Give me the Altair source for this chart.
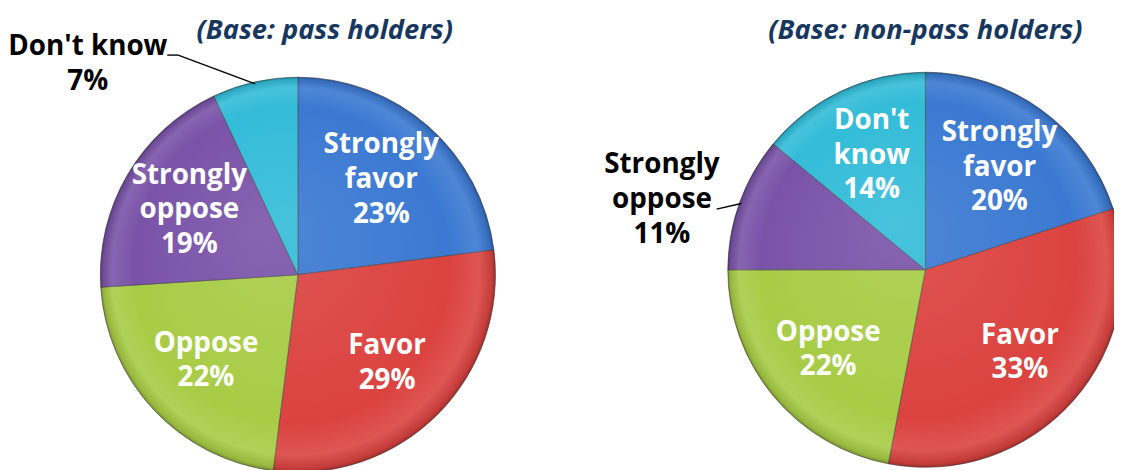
import math
import altair as alt
import pandas as pd

# ---- data ----
categories = ["Strongly favor", "Favor", "Oppose", "Strongly oppose", "Don't know"]
pass_holders = [23, 29, 22, 19, 7]
non_pass_holders = [20, 33, 22, 11, 14]
labels_pass = ["Strongly\nfavor", "Favor", "Oppose", "Strongly\noppose", "Don't know"]
labels_non_pass = ["Strongly\nfavor", "Favor", "Oppose", "Strongly\noppose", "Don't\nknow"]
titles = ["(Base: pass holders)", "(Base: non-pass holders)"]
colors = ["#3b79d2", "#db4340", "#a8cc46", "#7a53a8", "#33bcd8"]

rows = []
for pie, vals, labs in [("pass", pass_holders, labels_pass),
                        ("nonpass", non_pass_holders, labels_non_pass)]:
    for i, (c, v, l) in enumerate(zip(categories, vals, labs)):
        text = f"{l}\n{v}%"
        rows.append({"pie": pie, "category": c, "order": i, "value": v,
                     "label": text, "nlines": text.count("\n") + 1})
df = pd.DataFrame(rows)

W, H = 1114, 462
R = 199
FONT = "Open Sans"
LABEL_SIZE = 28
LINE_H = 35
IN_R = 127

color_scale = alt.Scale(domain=categories, range=colors)

shade = {
    "gradient": "radial",
    "x1": 0.42, "y1": 0.38, "r1": 0.0,
    "x2": 0.5, "y2": 0.5, "r2": 0.5,
    "stops": [
        {"offset": 0.0, "color": "rgba(255,255,255,0.10)"},
        {"offset": 0.80, "color": "rgba(255,255,255,0.0)"},
        {"offset": 0.93, "color": "rgba(255,255,255,0.10)"},
        {"offset": 0.985, "color": "rgba(0,0,0,0.10)"},
        {"offset": 1.0, "color": "rgba(0,0,0,0.30)"},
    ],
}


def pie_layers(name, cx, cy, title, tx, ty, out_r, out_off_deg, text_dx, text_dy, stub):
    base = alt.Chart(df).transform_filter(alt.datum.pie == name)

    arcs = base.mark_arc(outerRadius=R, stroke="#3d3d3d", strokeWidth=1,
                         strokeOpacity=0.55).encode(
        theta=alt.Theta("value:Q", stack=True),
        color=alt.Color("category:N", scale=color_scale, legend=None),
        order=alt.Order("order:Q"),
        x=alt.value(cx), y=alt.value(cy),
    )

    overlay = alt.Chart(alt.Data(values=[{"k": 1}])).mark_arc(
        theta=0, theta2=2 * math.pi, outerRadius=R, fill=shade,
    ).encode(x=alt.value(cx), y=alt.value(cy), detail="k:N")

    layers = [arcs, overlay]

    # inside labels: one layer per line count so each block is centred
    for n in (2, 3):
        inside = base.transform_calculate(
            inside=f"(datum.value >= 12 && datum.nlines == {n}) ? datum.label : ''"
        ).mark_text(radius=IN_R, font=FONT, fontSize=LABEL_SIZE, fontWeight="bold",
                    color="white", lineBreak="\n", lineHeight=LINE_H,
                    align="center", baseline="middle",
                    dy=-(n - 1) * LINE_H / 2).encode(
            theta=alt.Theta("value:Q", stack=True),
            order=alt.Order("order:Q"),
            detail="category:N",
            text="inside:N",
            x=alt.value(cx), y=alt.value(cy),
        )
        layers.append(inside)

    off = math.radians(out_off_deg)
    outside_base = base.transform_joinaggregate(
        total="sum(value)"
    ).transform_window(
        cum="sum(value)", sort=[alt.SortField("order")], frame=[None, 0]
    ).transform_calculate(
        mid="(datum.cum - datum.value / 2) / datum.total * 2 * PI"
    ).transform_filter(
        alt.datum.value < 12
    ).transform_calculate(
        px=f"{cx} + {R - 2} * sin(datum.mid)",
        py=f"{cy} - {R - 2} * cos(datum.mid)",
        ax=f"{cx} + {out_r} * sin(datum.mid + {off})",
        ay=f"{cy} - {out_r} * cos(datum.mid + {off})",
    ).transform_calculate(
        sx=f"datum.ax - {stub}"
    )

    leader = outside_base.mark_rule(color="black", strokeWidth=1.4).encode(
        x=alt.X("px:Q", scale=None), y=alt.Y("py:Q", scale=None),
        x2="ax:Q", y2="ay:Q",
    )
    layers.append(leader)
    if stub > 0:
        stub_rule = outside_base.mark_rule(color="black", strokeWidth=1.4).encode(
            x=alt.X("sx:Q", scale=None), y=alt.Y("ay:Q", scale=None),
            x2="ax:Q", y2="ay:Q",
        )
        layers.append(stub_rule)

    for n in (2, 3):
        out_text = outside_base.transform_filter(
            alt.datum.nlines == n
        ).mark_text(
            font=FONT, fontSize=LABEL_SIZE, fontWeight="bold", color="black",
            lineBreak="\n", lineHeight=LINE_H, align="center", baseline="middle",
            dx=text_dx, dy=text_dy - (n - 1) * LINE_H / 2,
        ).encode(
            x=alt.X("ax:Q", scale=None), y=alt.Y("ay:Q", scale=None),
            text="label:N",
        )
        layers.append(out_text)

    title_mark = alt.Chart(alt.Data(values=[{"t": title}])).mark_text(
        font=FONT, fontSize=27.5, fontWeight="bold", fontStyle="italic",
        color="#17375e", align="center", baseline="middle",
    ).encode(text="t:N", x=alt.value(tx), y=alt.value(ty))
    layers.append(title_mark)
    return layers


left = pie_layers("pass", 292, 267, titles[0], 319, 22,
                  out_r=252, out_off_deg=-16, text_dx=-91, text_dy=9.5, stub=11)
right = pie_layers("nonpass", 924, 262, titles[1], 924, 22,
                   out_r=219, out_off_deg=-3.6, text_dx=-55, text_dy=-9, stub=0)

chart = alt.layer(*(left + right)).properties(
    width=W, height=H,
    autosize=alt.AutoSizeParams(type="none"),
    padding=0,
).configure_view(stroke=None)

chart.save("out.html", embed_options={"renderer": "svg", "actions": False})
